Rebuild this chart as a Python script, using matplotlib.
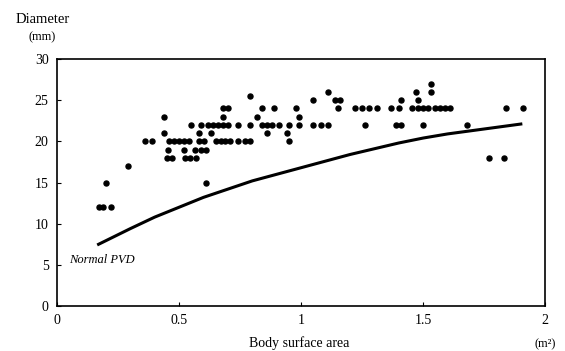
import matplotlib
matplotlib.use("Agg")
import matplotlib.pyplot as plt

# === DATA ===
bsa = [0.17, 0.19, 0.22, 0.20, 0.29, 0.36, 0.39, 0.44, 0.44,
       # 22 mm row
       0.55, 0.59, 0.62, 0.64, 0.66, 0.68, 0.70, 0.74, 0.79, 0.84, 0.86, 0.88,
       0.91, 0.95, 0.99, 1.05, 1.08, 1.11, 1.26, 1.39, 1.41, 1.50, 1.68,
       # 21 mm row
       0.58, 0.63, 0.86, 0.94,
       # 20 mm row
       0.46, 0.48, 0.50, 0.52, 0.54, 0.58, 0.60, 0.65, 0.67, 0.69, 0.71, 0.74,
       0.77, 0.79, 0.95,
       # 19 mm row
       0.455, 0.52, 0.565, 0.59, 0.61,
       # 18 mm row
       0.45, 0.47, 0.525, 0.545, 0.57, 1.77, 1.83,
       # 15 mm
       0.61,
       # 23 mm row
       0.68, 0.82, 0.99,
       # 24 mm row
       0.68, 0.70, 0.84, 0.89, 0.98, 1.15, 1.22, 1.25, 1.28, 1.31, 1.37, 1.40,
       1.455, 1.48, 1.50, 1.52, 1.55, 1.57, 1.59, 1.61, 1.84, 1.91,
       # 25 mm and above
       1.05, 1.14, 1.16, 1.41, 1.48, 0.79, 1.11, 1.47, 1.53, 1.53]
diameter = [12, 12, 12, 15, 17, 20, 20, 23, 21] \
    + [22] * 23 + [21] * 4 + [20] * 15 + [19] * 5 + [18] * 7 + [15] \
    + [23] * 3 + [24] * 22 + [25] * 5 + [25.5, 26, 26, 26, 27]

normal_bsa = [0.17, 0.3, 0.4, 0.5, 0.6, 0.7, 0.8, 0.9, 1.0, 1.1, 1.2, 1.3,
              1.4, 1.5, 1.6, 1.7, 1.8, 1.9]
normal_pvd = [7.5, 9.4, 10.8, 12.0, 13.2, 14.2, 15.2, 16.0, 16.8, 17.6, 18.4,
              19.1, 19.8, 20.4, 20.9, 21.3, 21.7, 22.1]

x_ticks = [0, 0.5, 1, 1.5, 2]
x_tick_labels = ["0", "0.5", "1", "1.5", "2"]
y_ticks = [0, 5, 10, 15, 20, 25, 30]

plt.rcParams["font.family"] = ["Liberation Serif", "DejaVu Serif"]

fig = plt.figure(figsize=(5.65, 3.51), dpi=100)
ax = fig.add_axes([0.101, 0.128, 0.864, 0.704])

ax.scatter(bsa, diameter, s=13, color="black", zorder=3)
ax.plot(normal_bsa, normal_pvd, color="black", linewidth=2.2)

ax.set_xlim(0, 2)
ax.set_ylim(0, 30)
ax.set_xticks(x_ticks)
ax.set_xticklabels(x_tick_labels)
ax.set_yticks(y_ticks)
ax.tick_params(direction="in", length=3, labelsize=10, pad=6)
for s in ax.spines.values():
    s.set_linewidth(1.2)

ax.text(0.05, 5.6, "Normal PVD", fontsize=9, style="italic", va="center")

fig.text(0.075, 0.935, "Diameter", fontsize=10.5, ha="center")
fig.text(0.075, 0.885, "(mm)", fontsize=9, ha="center")
fig.text(0.53, 0.01, "Body surface area", fontsize=10, ha="center")
fig.text(0.965, 0.01, "(m²)", fontsize=9, ha="center")

fig.savefig("out.png", dpi=100)
